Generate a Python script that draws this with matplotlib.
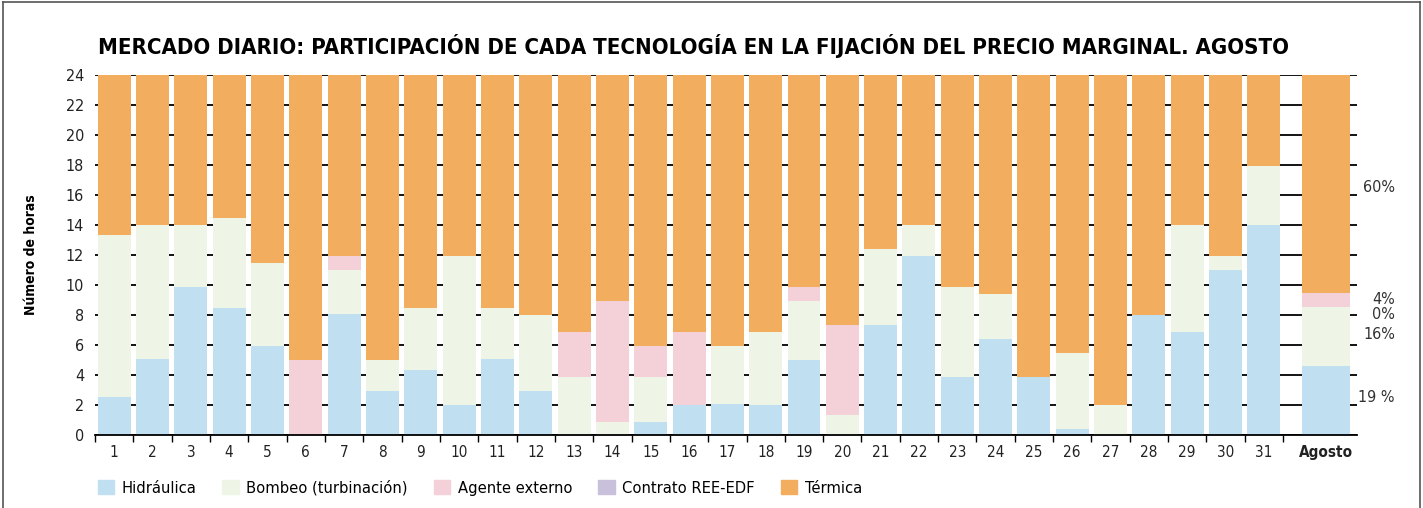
import matplotlib.pyplot as plt
import matplotlib.transforms as mtransforms
from matplotlib.lines import Line2D
from matplotlib.patches import Patch

plt.rcParams['font.family'] = ['DejaVu Sans Condensed', 'Liberation Sans Narrow', 'DejaVu Sans']
plt.rcParams['font.stretch'] = 'condensed'

dias = [str(d) for d in range(1, 32)]
hidraulica = [2.5, 5.07, 9.87, 8.47, 5.93, 0, 8.07, 2.93, 4.33, 2.0, 5.07, 2.93, 0, 0, 0.87, 2.0,
              2.07, 2.0, 5.0, 0, 7.33, 11.93, 3.87, 6.4, 3.87, 0.4, 0, 8.0, 6.87, 11.0, 14.0]
bombeo = [10.83, 8.93, 4.13, 6.0, 5.53, 0, 2.93, 2.07, 4.13, 9.93, 3.4, 5.07, 3.87, 0.87, 3.0, 0,
          3.87, 4.87, 3.93, 1.33, 5.07, 2.07, 6.0, 3.0, 0, 5.07, 2.0, 0, 7.13, 0.93, 3.93]
agente = [0, 0, 0, 0, 0, 5.0, 0.93, 0, 0, 0, 0, 0, 3.0, 8.07, 2.07, 4.87,
          0, 0, 0.93, 6.0, 0, 0, 0, 0, 0, 0, 0, 0, 0, 0, 0]
contrato = [0] * 31
termica = [10.67, 10.0, 10.0, 9.53, 12.53, 19.0, 12.07, 19.0, 15.53, 12.07, 15.53, 16.0, 17.13, 15.07,
           18.07, 17.13, 18.07, 17.13, 14.13, 16.67, 11.6, 10.0, 14.13, 14.6, 20.13, 18.53, 22.0,
           16.0, 10.0, 12.07, 6.07]

# barra resumen del mes
agosto = {'hidraulica': 4.6, 'bombeo': 3.93, 'agente': 0.94, 'contrato': 0, 'termica': 14.53}
agosto_pct = ['19 %', '16%', '4%', '0%', '60%']

nombres = ['Hidráulica', 'Bombeo (turbinación)', 'Agente externo', 'Contrato REE-EDF', 'Térmica']
colores = ['#c0dff0', '#eef5e6', '#f4d0d8', '#c9c0dc', '#f2ae5e']

fig = plt.figure(figsize=(14.23, 5.08), dpi=100)
ax = fig.add_axes([0.0668, 0.1437, 0.8868, 0.7087])

x = list(range(1, 32))
series = [hidraulica, bombeo, agente, contrato, termica]
base = [0.0] * 31
for vals, col in zip(series, colores):
    ax.bar(x, vals, 0.86, bottom=base, color=col, zorder=2)
    base = [b + v for b, v in zip(base, vals)]

xa = 32.62
b = 0.0
for key, col in zip(['hidraulica', 'bombeo', 'agente', 'contrato', 'termica'], colores):
    ax.bar(xa, agosto[key], 1.23, bottom=b, color=col, zorder=2)
    b += agosto[key]

ax.set_xlim(0.5, 33.43)
ax.set_ylim(0, 24)
ax.set_yticks(range(0, 25, 2))
ax.yaxis.grid(True, color='black', linewidth=1.3, zorder=0)
ax.set_axisbelow(True)
for s in ['left', 'right', 'top']:
    ax.spines[s].set_visible(False)
ax.spines['bottom'].set_linewidth(1.3)
ax.tick_params(axis='y', length=0, labelsize=11.5, pad=8, labelcolor='#222222')

ax.set_xticks(x + [xa])
ax.set_xticklabels(dias + ['Agosto'])
ax.get_xticklabels()[-1].set_fontweight('bold')
ax.tick_params(axis='x', length=0, labelsize=11, pad=7, labelcolor='#222222')
ax.set_xticks([i + 0.5 for i in range(0, 32)], minor=True)
ax.tick_params(axis='x', which='minor', length=5, width=1, direction='out')

ax.set_ylabel('Número de horas', fontsize=10, fontweight='bold', labelpad=20)

# porcentajes del mes
trans = mtransforms.blended_transform_factory(fig.transFigure, ax.transData)
pct_y = [2.53, 6.67, 9.0, 8.0, 16.47]
for t, yv in zip(agosto_pct, pct_y):
    ax.text(1395 / 1423, yv, t, transform=trans, ha='right', va='center',
            fontsize=11.5, color='#333333')

fig.text(0.069, 0.91, 'MERCADO DIARIO: PARTICIPACIÓN DE CADA TECNOLOGÍA EN LA FIJACIÓN DEL PRECIO MARGINAL. AGOSTO',
         fontsize=15.9, fontweight='bold', va='center', ha='left')

handles = [Patch(color=c) for c in colores]
fig.legend(handles, nombres, loc='center left', bbox_to_anchor=(0.0605, 0.04), ncol=5, frameon=False,
           fontsize=11.8, handlelength=1.0, handleheight=1.0, columnspacing=1.6, handletextpad=0.45,
           borderpad=0.2)

# marco
fr = '#555555'
fig.add_artist(Line2D([0.002, 0.002], [0, 0.996], color=fr, lw=1.2, transform=fig.transFigure))
fig.add_artist(Line2D([0.002, 0.998], [0.996, 0.996], color=fr, lw=1.2, transform=fig.transFigure))
fig.add_artist(Line2D([0.998, 0.998], [0, 0.996], color=fr, lw=1.2, transform=fig.transFigure))

fig.savefig('out.png', dpi=100)
